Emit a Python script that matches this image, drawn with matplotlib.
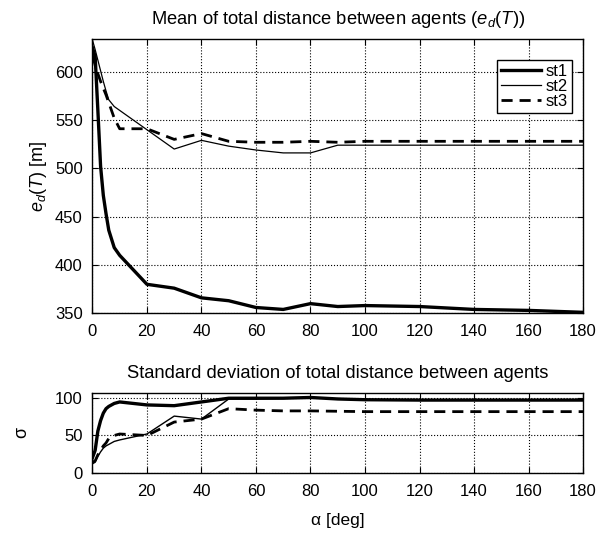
import numpy as np
import matplotlib
matplotlib.use("Agg")
import matplotlib.pyplot as plt

plt.rcParams["font.family"] = ["Liberation Sans", "DejaVu Sans"]
plt.rcParams["mathtext.fontset"] = "custom"
plt.rcParams["mathtext.it"] = "Liberation Sans:italic"
plt.rcParams["mathtext.rm"] = "Liberation Sans"

# mean of total distance e_d(T)
alpha = [0, 1, 2, 3, 4, 5, 6, 8, 10, 20, 30, 40, 50, 60, 70, 80, 90, 100, 120, 140, 160, 180]
mean_st1 = [625, 616, 560, 502, 472, 453, 436, 418, 410, 380, 376, 366, 363, 356, 354, 360, 357, 358, 357, 354, 353, 351]
mean_st2 = [633, 623, 612, 601, 590, 580, 571, 564, 560, 540, 520, 529, 523, 519, 516, 516, 524, 524, 524, 524, 524, 524]
mean_st3 = [617, 607, 598, 590, 583, 576, 568, 552, 541, 541, 530, 536, 528, 527, 527, 528, 527, 528, 528, 528, 528, 528]

# standard deviation
std_st1 = [20, 30, 56, 70, 80, 86, 89, 93, 95, 91, 90, 95, 100, 100, 100, 101, 99, 98, 97.5, 97.5, 97.5, 97.5]
std_st2 = [12, 14, 22, 28, 33, 36, 38, 42, 44, 52, 76, 72, 99, 99, 100, 101, 99, 98, 97.5, 97.5, 97.5, 97.5]
std_st3 = [14, 16, 24, 30, 36, 40, 46, 50, 52, 50, 68, 72, 86, 84, 83, 83, 82.5, 82, 82, 82, 82, 82]

xticks = list(range(0, 181, 20))

fig = plt.figure(figsize=(6.08, 5.35), dpi=100)
ax1 = fig.add_axes([0.152, 0.4144, 0.807, 0.512])
ax2 = fig.add_axes([0.152, 0.1164, 0.807, 0.149])

ax1.plot(alpha, mean_st1, color="black", lw=2.4, label="st1")
ax1.plot(alpha, mean_st2, color="black", lw=0.9, label="st2")
ax1.plot(alpha, mean_st3, color="black", lw=2.0, ls=(0, (4, 2.5)), label="st3")

ax2.plot(alpha, std_st1, color="black", lw=2.4)
ax2.plot(alpha, std_st2, color="black", lw=1.0)
ax2.plot(alpha, std_st3, color="black", lw=2.0, ls=(0, (4, 2.5)))

ax1.set_xlim(0, 180)
ax1.set_ylim(350, 633.5)
ax1.set_yticks([350, 400, 450, 500, 550, 600])
ax2.set_xlim(0, 180)
ax2.set_ylim(0, 107)
ax2.set_yticks([0, 50, 100])

for ax in (ax1, ax2):
    ax.set_xticks(xticks)
    ax.grid(True, color="black", ls=":", lw=0.8)
    ax.tick_params(direction="in", labelsize=12, length=4, top=True, right=True)
    ax.tick_params(axis="x", pad=8)
    ax.tick_params(axis="y", pad=7)
    for sp in ax.spines.values():
        sp.set_linewidth(1.0)

ax1.set_title(r"Mean of total distance between agents ($e_d(T)$)", fontsize=13.2, pad=11)
ax1.set_ylabel(r"$e_d(T)$ [m]", fontsize=13)
ax2.set_title("Standard deviation of total distance between agents", fontsize=13.2, pad=11)
ax2.set_ylabel("σ", fontsize=13, labelpad=18)
ax2.set_xlabel("α [deg]", fontsize=12.5, labelpad=10)

leg = ax1.legend(loc="upper right", bbox_to_anchor=(0.978, 0.925), fontsize=12,
                 frameon=True, fancybox=False, edgecolor="black", framealpha=1,
                 handlelength=2.4, handletextpad=0.3, borderpad=0.25, labelspacing=0.0,
                 borderaxespad=0)
leg.get_frame().set_linewidth(1.0)

fig.savefig("out.png", dpi=100)
